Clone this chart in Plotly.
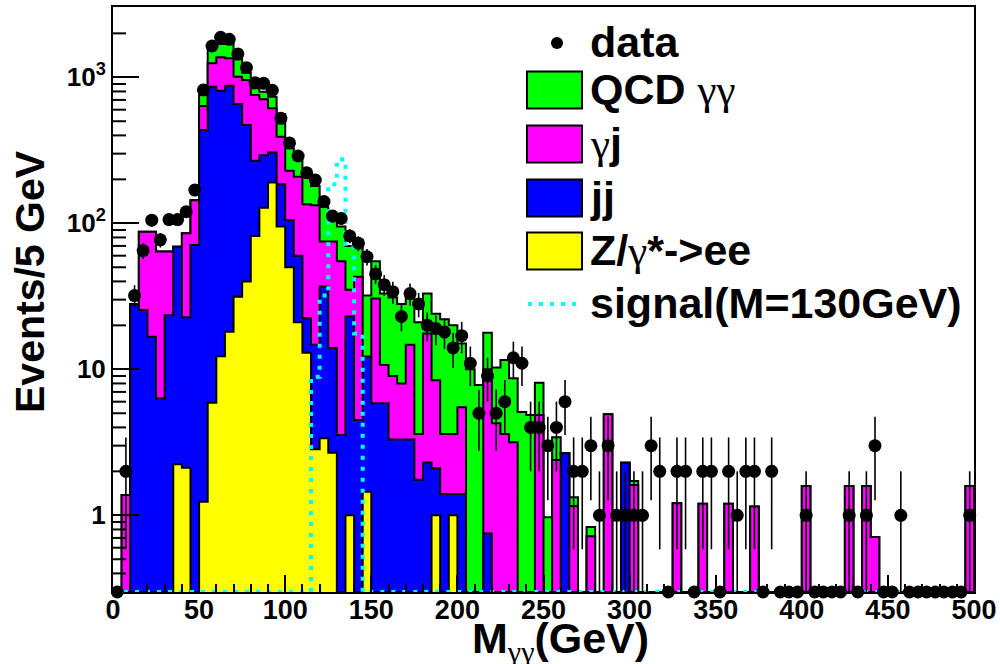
import numpy as np
import plotly.graph_objects as go

# ---------------- data (5 GeV bins from 0 to 500 GeV) ----------------
mass_edges = list(range(0, 505, 5))

data_counts = [
    0, 2, 32, 65, 105, 77, 106, 106, 120, 169,
    819, 1638, 1880, 1820, 1445, 1164, 918, 910, 815, 524,
    355, 289, 222, 198, 141, 112, 108, 82, 73, 59,
    45, 38, 34, 23, 33, 28, 20, 19, 18, 14,
    17, 11, 5, 9, 5, 6, 12, 11, 4, 4,
    3, 4, 6, 2, 2, 3, 1, 3, 1, 1,
    1, 1, 3, 2, 0, 2, 2, 0, 2, 2,
    0, 2, 1, 2, 2, 0, 2, 0, 0, 0,
    1, 0, 0, 0, 0, 1, 0, 1, 3, 0,
    0, 1, 0, 0, 0, 0, 0, 0, 0, 1,
]

z_ee = [
    0, 0, 0, 0, 0, 0, 0, 2.24, 2.12, 0,
    1.24, 5.9, 12.3, 18.1, 31.4, 40, 82, 128, 190, 95,
    50, 21, 13, 2.83, 3.37, 2.68, 0, 1.0, 0, 1.45,
    0, 0, 0, 0, 0, 0, 0, 1.0, 0, 1.0,
] + [0] * 60

jj = [
    0, 0, 27.9, 25.5, 16.7, 6.3, 23.5, 66.8, 20.6, 71,
    435, 856, 797, 858, 625, 431, 186, 164, 115, 90,
    55, 39, 9.4, 11.9, 33.6, 11.3, 3.55, 22, 4.5, 10.75,
    5.85, 5.85, 3.3, 3.3, 3.3, 1.75, 2.3, 1.1, 1.4, 0.4,
    1.4, 0, 0, 0.75, 0, 0, 0, 0, 0, 0,
    0, 0, 2.66, 0, 0, 0, 0, 0, 0, 2.29,
] + [0] * 40

gamma_jet = [
    0, 1.38, 0, 62.1, 70.9, 57.7, 40.5, 0, 62.8, 73,
    200, 385, 562, 474, 353, 488, 489, 415, 309, 207,
    124, 148, 112.6, 118.3, 38, 61, 51.45, 12, 38.5, 0,
    24.75, 4.85, 5.7, 4.7, 11.4, 1.85, 15.3, 6.3, 2.2, 2.2,
    4.1, 0, 0, 9.25, 4.27, 3.6, 3.16, 0, 0, 4.86,
    0, 2.39, 0, 1.16, 0, 0.72, 0, 4.92, 0, 0,
    1.61, 0, 0, 0, 0, 1.21, 0, 0, 1.2, 0,
    0, 1.2, 0, 0, 1.15, 0, 0, 0, 0, 0,
    1.59, 0, 0, 0, 0, 1.59, 0, 1.59, 0.71, 0,
    0, 0, 0, 0, 0, 0, 0, 0, 0, 1.59,
]

qcd_gg = [
    0, 0, 0, 0, 0, 0, 0, 0, 0, 0,
    119, 357, 319, 340, 319, 117, 84, 90, 122, 169,
    97, 64, 90, 47, 55, 30, 40, 35, 34, 19.8,
    24.4, 22.3, 22, 20, 17.3, 17.4, 15.4, 15.6, 18.4, 16.4,
    9.5, 10, 7.8, 7.8, 6.03, 8.0, 5.54, 5.1, 4.86, 3.24,
    0.97, 1.03, 0, 0.17, 0, 0.11, 0, 0, 0, 0,
    0.11,
] + [0] * 39

signal_130 = [0] * 23 + [8.9, 32, 185, 275, 69, 17.6] + [0] * 71

# ---------------- helpers ----------------
W, H = 1000, 664
L, R, T, B = 113, 26, 7, 72
PW, PH = W - L - R, H - T - B
Y_LOG_RANGE = [-0.5253, 3.4815]
FLOOR = 10 ** Y_LOG_RANGE[0]


def px_x(p):
    return (p - L) / PW


def px_y(p):
    return (H - B - p) / PH


def log_to_paper(v):
    return (np.log10(v) - Y_LOG_RANGE[0]) / (Y_LOG_RANGE[1] - Y_LOG_RANGE[0])


def step_polygon(vals):
    xs, ys = [mass_edges[0]], [FLOOR]
    for i, v in enumerate(vals):
        v = max(v, FLOOR)
        xs += [mass_edges[i], mass_edges[i + 1]]
        ys += [v, v]
    xs.append(mass_edges[-1])
    ys.append(FLOOR)
    return xs, ys


cum_yellow = np.array(z_ee, float)
cum_blue = cum_yellow + np.array(jj, float)
cum_magenta = cum_blue + np.array(gamma_jet, float)
cum_green = cum_magenta + np.array(qcd_gg, float)

fig = go.Figure()

for vals, col in [(cum_green, "#00ff00"), (cum_magenta, "#ff00ff"),
                  (cum_blue, "#0000ff"), (cum_yellow, "#ffff00")]:
    xs, ys = step_polygon(vals)
    fig.add_trace(go.Scatter(x=xs, y=ys, mode="lines", fill="toself",
                             fillcolor=col, line=dict(color="black", width=2),
                             hoverinfo="skip", showlegend=False))

# signal
sx, sy = step_polygon(signal_130)
fig.add_trace(go.Scatter(x=sx[1:-1], y=sy[1:-1], mode="lines",
                         line=dict(color="#00ffff", width=4, dash="4px,7px"),
                         cliponaxis=False, hoverinfo="skip", showlegend=False))

# data error bars
centers = [(mass_edges[i] + mass_edges[i + 1]) / 2 for i in range(len(data_counts))]
ex, ey = [], []
for c, n in zip(centers, data_counts):
    if n > 0:
        s = np.sqrt(n)
        ex += [c, c, None]
        ey += [max(n - s, FLOOR), n + s, None]
fig.add_trace(go.Scatter(x=ex, y=ey, mode="lines",
                         line=dict(color="black", width=1.6),
                         hoverinfo="skip", showlegend=False))

fig.add_trace(go.Scatter(x=centers, y=[max(n, FLOOR) for n in data_counts],
                         mode="markers", cliponaxis=False,
                         marker=dict(color="black", size=13, symbol="circle"),
                         showlegend=False))

shapes = []
annotations = []

# y-axis minor ticks (2..9 per decade), drawn inward from the left frame
for dec in range(-1, 4):
    for m in range(2, 10):
        v = m * 10 ** dec
        p = log_to_paper(v)
        if 0.003 < p < 0.997:
            shapes.append(dict(type="line", xref="paper", yref="paper",
                               x0=0, x1=13 / PW, y0=p, y1=p,
                               line=dict(color="black", width=2)))

# ---------------- legend (drawn by hand, ROOT style) ----------------
FONT = "Liberation Sans"
GREEK = '<span style="font-family:Liberation Serif;font-weight:normal">'

shapes.append(dict(type="circle", xref="paper", yref="paper",
                   x0=px_x(551), x1=px_x(563), y0=px_y(49), y1=px_y(37),
                   fillcolor="black", line=dict(color="black", width=0)))
legend_rows = [
    ("data", None, 43),
    ("QCD " + GREEK + "γγ</span>", "#00ff00", 90),
    (GREEK + "γ</span>j", "#ff00ff", 144),
    ("jj", "#0000ff", 198),
    ("Z/" + GREEK + "γ</span>*->ee", "#ffff00", 251),
    ("signal(M=130GeV)", "cyan", 304),
]
for text, col, yc in legend_rows:
    if col is not None and col != "cyan":
        shapes.append(dict(type="rect", xref="paper", yref="paper",
                           x0=px_x(527), x1=px_x(582),
                           y0=px_y(yc + 18.5), y1=px_y(yc - 18.5),
                           fillcolor=col, line=dict(color="black", width=2)))
    elif col == "cyan":
        shapes.append(dict(type="line", xref="paper", yref="paper",
                           x0=px_x(528), x1=px_x(582), y0=px_y(yc), y1=px_y(yc),
                           line=dict(color="#00ffff", width=4, dash="4px,7px")))
    annotations.append(dict(text=text, xref="paper", yref="paper",
                            x=px_x(588), y=px_y(yc - 1), xanchor="left",
                            yanchor="middle", showarrow=False,
                            font=dict(family=FONT, size=43, color="black",
                                      weight="bold")))

# axis titles
annotations.append(dict(text="Events/5 GeV", xref="paper", yref="paper",
                        x=px_x(30), y=px_y(282), textangle=-90,
                        xanchor="center", yanchor="middle", showarrow=False,
                        font=dict(family=FONT, size=41, color="black",
                                  weight="bold")))
annotations.append(dict(text="M<sub>" + GREEK + "γγ</span></sub>(GeV)",
                        xref="paper", yref="paper",
                        x=px_x(560), y=px_y(612), xanchor="center",
                        yanchor="top", showarrow=False,
                        font=dict(family=FONT, size=43, color="black",
                                  weight="bold")))

fig.update_layout(
    width=W, height=H,
    margin=dict(l=L, r=R, t=T, b=B, pad=0),
    paper_bgcolor="white", plot_bgcolor="white",
    shapes=shapes, annotations=annotations,
    xaxis=dict(range=[0, 500], tickvals=list(range(0, 501, 50)),
               ticks="inside", ticklen=17, tickwidth=2, tickcolor="black",
               minor=dict(ticks="inside", ticklen=8, tickwidth=2,
                          tickcolor="black", dtick=10, showgrid=False),
               showline=True, linecolor="black", linewidth=2, mirror=True,
               showgrid=False, zeroline=False, automargin=False,
               ticklabelstandoff=-7,
               tickfont=dict(family=FONT, size=27, color="black", weight="bold")),
    yaxis=dict(type="log", range=Y_LOG_RANGE,
               tickvals=[1, 10, 100, 1000],
               ticktext=["1", "10", "10<sup>2</sup>", "10<sup>3</sup>"],
               ticks="inside", ticklen=26, tickwidth=2, tickcolor="black",
               showline=True, linecolor="black", linewidth=2, mirror=True,
               showgrid=False, zeroline=False, automargin=False,
               tickfont=dict(family=FONT, size=26, color="black", weight="bold")),
)

fig.write_html("out.html",
               config={"displayModeBar": False},
               post_script="document.body.style.margin='0px';"
                           "document.body.style.overflow='hidden';")
